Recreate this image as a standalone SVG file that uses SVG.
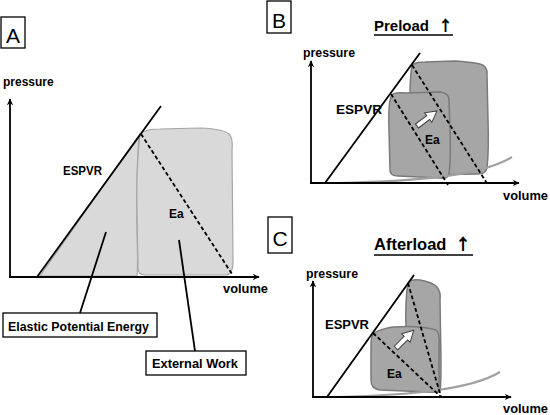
<svg xmlns="http://www.w3.org/2000/svg" width="550" height="415" viewBox="0 0 550 415">
<defs>
<marker id="ah" viewBox="0 0 10 10" refX="9" refY="5" markerWidth="7" markerHeight="7" markerUnits="userSpaceOnUse" orient="auto">
<path d="M0,0.5 L10,5 L0,9.5 L3,5 Z" fill="#000"/>
</marker>
<style>
.t{font-family:"Liberation Sans","DejaVu Sans",sans-serif;font-weight:bold;font-size:12px;fill:#000}
.L{font-family:"Liberation Sans","DejaVu Sans",sans-serif;font-size:21px;fill:#000}
.ar{font-family:"Noto Sans CJK SC","DejaVu Sans",sans-serif;font-weight:900}
.ax{stroke:#000;stroke-width:1.8;fill:none;marker-end:url(#ah)}
.ln{stroke:#000;stroke-width:1.8;fill:none}
.ds{stroke:#000;stroke-width:1.8;fill:none;stroke-dasharray:4,2.5}
.bx{fill:#fff;stroke:#000;stroke-width:1.3}
.lb{fill:#d9d9d9;stroke:#a6a6a6;stroke-width:1.2}
.db{fill:#a6a6a6;stroke:#7a7a7a;stroke-width:1.5}
.gc{fill:none;stroke:#a0a0a0;stroke-width:2.2}
.oa{fill:#fff;stroke:#404040;stroke-width:1}
</style>
</defs>
<rect width="550" height="415" fill="#fff"/>

<g id="panelA">
<rect class="bx" x="1" y="17" width="24" height="31"/>
<text class="L" x="13" y="43" text-anchor="middle">A</text>
<path class="lb" d="M40,276 L139,135 Q136,180 137,230 Q138,265 137,276 Z"/>
<path class="lb" d="M140,134 Q145,129 160,129 L200,128 Q225,129 230,135 Q233,140 232,150 L233,262 Q233,275 225,275 L145,275 Q138,275 138,268 L137,210 Q136,170 140,134 Z"/>
<line class="ln" x1="37" y1="277" x2="161" y2="106"/>
<line class="ds" x1="141" y1="134" x2="232" y2="274"/>
<line class="ax" x1="10" y1="277" x2="10" y2="99"/>
<line class="ax" x1="9" y1="277" x2="259" y2="277"/>
<text class="t" x="3" y="86">pressure</text>
<text class="t" x="223" y="293" textLength="45" lengthAdjust="spacingAndGlyphs">volume</text>
<text class="t" x="63" y="175" textLength="39" lengthAdjust="spacingAndGlyphs">ESPVR</text>
<text class="t" x="169" y="218">Ea</text>
</g>

<g id="elastic">
<rect class="bx" x="3" y="313" width="154" height="24"/>
<text class="t" x="8" y="331" textLength="141" lengthAdjust="spacingAndGlyphs">Elastic Potential Energy</text>
</g>
<g id="external">
<rect class="bx" x="146" y="351" width="100" height="24"/>
<text class="t" x="152" y="368" textLength="86" lengthAdjust="spacingAndGlyphs">External Work</text>
</g>

<g id="connectors">
<line class="ln" x1="106" y1="232" x2="80" y2="313" stroke-width="1.5"/>
<line class="ln" x1="179" y1="240" x2="195" y2="351" stroke-width="1.5"/>
</g>

<g id="panelB">
<rect class="bx" x="267" y="1" width="24" height="32"/>
<text class="L" x="279" y="28" text-anchor="middle">B</text>
<text class="t" x="374" y="31" style="font-size:15px">Preload <tspan class="ar" x="438" style="font-size:15px">↑</tspan></text>
<line x1="374" y1="35" x2="453" y2="35" stroke="#000" stroke-width="1.5"/>
<path class="db" d="M412,66 Q414,62 425,62 L455,61 Q470,62 480,64 Q488,66 487,75 L488,120 Q489,150 487,168 Q486,174 478,174 L420,175 L410,175 L410,100 Q410,75 412,66 Z"/>
<path class="db" d="M392,95 Q394,92 405,93 L440,92 Q449,93 449,100 L450,130 Q451,160 449,174 Q448,179 440,178 L398,176 Q390,176 390,170 L389,130 Q388,100 392,95 Z"/>
<path class="gc" d="M337,183 C420,181 480,176 512,157"/>
<line class="ln" x1="325" y1="183" x2="420" y2="53"/>
<line class="ds" x1="412" y1="65" x2="488" y2="185"/>
<line class="ds" x1="391" y1="94" x2="448" y2="185"/>
<polygon class="oa" transform="translate(417,126) rotate(-37)" points="0,-2.5 14,-2.5 14,-6 25,0 14,6 14,2.5 0,2.5"/>
<line class="ax" x1="311" y1="183" x2="311" y2="61"/>
<line class="ax" x1="310" y1="183" x2="519" y2="183"/>
<text class="t" x="303" y="57" textLength="52" lengthAdjust="spacingAndGlyphs">pressure</text>
<text class="t" x="503" y="200" textLength="45" lengthAdjust="spacingAndGlyphs">volume</text>
<text class="t" x="336" y="114" textLength="46" lengthAdjust="spacingAndGlyphs">ESPVR</text>
<text class="t" x="425" y="144">Ea</text>
</g>

<g id="panelC">
<rect class="bx" x="268" y="217" width="24" height="36"/>
<text class="L" x="280" y="246" text-anchor="middle">C</text>
<text class="t" x="374" y="250" style="font-size:16.5px">Afterload <tspan class="ar" x="455" style="font-size:16px">↑</tspan></text>
<line x1="374" y1="255" x2="473" y2="255" stroke="#000" stroke-width="1.5"/>
<path class="db" d="M408,283 Q410,279 420,280 Q432,282 437,287 Q441,292 440,300 L441,360 Q441,385 440,392 L410,392 L406,330 Q405,300 408,283 Z"/>
<path class="db" d="M373,335 Q375,330 393,327 Q420,325 436,330 Q440,333 439,345 L439,388 Q438,392 430,392 L380,390 Q371,389 371,380 L371,345 Q371,337 373,335 Z"/>
<path class="gc" d="M337,397 C410,395 470,390 500,372"/>
<line class="ln" x1="327" y1="397" x2="414" y2="275"/>
<line class="ds" x1="408" y1="283" x2="441" y2="397"/>
<line class="ds" x1="373" y1="333" x2="441" y2="397"/>
<polygon class="oa" transform="translate(396,348) rotate(-45)" points="0,-2.5 14,-2.5 14,-6 25,0 14,6 14,2.5 0,2.5"/>
<line class="ax" x1="313" y1="397" x2="313" y2="281"/>
<line class="ax" x1="312" y1="397" x2="511" y2="397"/>
<text class="t" x="306" y="278" textLength="52" lengthAdjust="spacingAndGlyphs">pressure</text>
<text class="t" x="503" y="413" textLength="45" lengthAdjust="spacingAndGlyphs">volume</text>
<text class="t" x="325" y="329" textLength="44" lengthAdjust="spacingAndGlyphs">ESPVR</text>
<text class="t" x="387" y="378">Ea</text>
</g>
</svg>
